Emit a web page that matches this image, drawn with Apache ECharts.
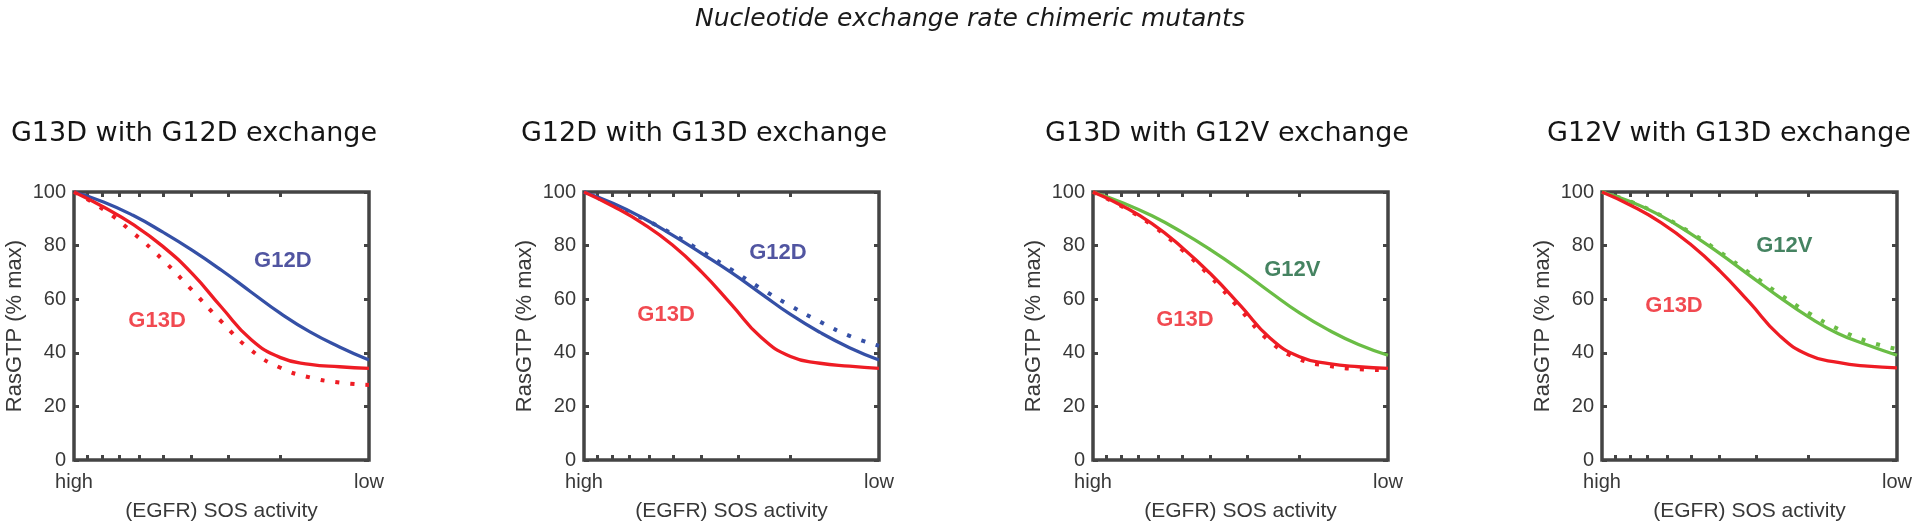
<!DOCTYPE html>
<html>
<head>
<meta charset="utf-8">
<script src="https://cdn.jsdelivr.net/npm/echarts@6/dist/echarts.min.js"></script>
<style>
  html, body { margin: 0; padding: 0; background: #fff; }
  #chart { width: 1920px; height: 527px; }
</style>
</head>
<body>
<div id="chart"></div>
<script>
// ---------- data ----------
const mainTitle = 'Nucleotide exchange rate chimeric mutants';
const panelTitles = ['G13D with G12D exchange', 'G12D with G13D exchange', 'G13D with G12V exchange', 'G12V with G13D exchange'];
const xAxisName = '(EGFR) SOS activity';
const yAxisName = 'RasGTP (% max)';

// SOS activity (log axis, high -> low)
const activity = [10, 7.943, 6.310, 5.012, 3.981, 3.162, 2.512, 1.995, 1.585, 1.259, 1];
const xMinorTicks = [2, 3, 4, 5, 6, 7, 8, 9];
const xLabelValues = [10, 1];
const xLabelNames = ['high', 'low'];

// Panel 1: G13D with G12D exchange
const p1_G12D = [100, 96.3, 91.3, 85.1, 78.3, 70.8, 62.7, 54.7, 47.8, 42.2, 37.3];
const p1_G13D = [100, 94.4, 87.9, 79.8, 69.6, 57.0, 45.0, 38.2, 35.7, 34.8, 34.2];
const p1_chimera = [100, 93.5, 84.8, 74.8, 63.4, 51.6, 41.0, 34.4, 30.8, 28.9, 28.0];
// Panel 2: G12D with G13D exchange
const p2_G12D = [100, 95.7, 90.3, 83.9, 77.0, 69.9, 62.1, 54.3, 47.6, 41.9, 37.3];
const p2_G13D = [100, 94.6, 88.2, 80.2, 70.0, 58.0, 45.8, 38.6, 36.1, 35.0, 34.2];
const p2_chimera = [100, 95.2, 90.1, 84.3, 77.8, 71.0, 64.0, 57.5, 51.6, 46.3, 42.6];
// Panel 3: G13D with G12V exchange
const p3_G12V = [100, 96.0, 91.1, 85.1, 78.3, 70.8, 62.7, 54.9, 48.4, 43.1, 39.1];
const p3_G13D = [100, 94.8, 88.2, 79.5, 69.3, 57.6, 45.5, 38.5, 36.0, 34.8, 34.2];
const p3_chimera = [100, 94.5, 87.6, 78.6, 68.2, 56.0, 44.2, 37.6, 35.1, 33.9, 33.5];
// Panel 4: G12V with G13D exchange
const p4_G12V = [100, 96.3, 91.1, 84.5, 77.0, 68.9, 60.9, 53.4, 47.2, 42.9, 39.1];
const p4_G13D = [100, 94.9, 88.6, 80.5, 70.5, 58.8, 46.6, 39.2, 36.4, 35.0, 34.4];
const p4_chimera = [100, 96.3, 91.2, 84.9, 77.6, 69.8, 62.0, 54.9, 48.9, 44.3, 41.4];

// in-plot labels: [text, activity, RasGTP, colour]
const p1_labels = [['G12D', 1.96, 74.3, 'navy'], ['G13D', 5.23, 51.9, 'red']];
const p2_labels = [['G12D', 2.20, 77.1, 'navy'], ['G13D', 5.27, 54.1, 'red']];
const p3_labels = [['G12V', 2.11, 70.9, 'dgreen'], ['G13D', 4.88, 52.1, 'red']];
const p4_labels = [['G12V', 2.41, 80.0, 'dgreen'], ['G13D', 5.70, 57.3, 'red']];

// ---------- styling ----------
const C = {
  blue: '#3550a6', navy: '#262a8a', red: '#ee1c24', green: '#6abd45', dgreen: '#17643a',
  axis: '#444444', text: '#383838'
};
const SANS = '"Liberation Sans", Arial, Helvetica, sans-serif';
const panelLefts = [74, 584, 1093, 1602];
const titleCenters = [194, 704, 1227, 1729];
const PW = 295, PTOP = 192, PH = 268;

const panels = [
  { solid: [[p1_G12D, 'blue'], [p1_G13D, 'red']], dotted: [p1_chimera, 'red'], labels: p1_labels },
  { solid: [[p2_G12D, 'blue'], [p2_G13D, 'red']], dotted: [p2_chimera, 'blue'], labels: p2_labels },
  { solid: [[p3_G12V, 'green'], [p3_G13D, 'red']], dotted: [p3_chimera, 'red'], labels: p3_labels },
  { solid: [[p4_G12V, 'green'], [p4_G13D, 'red']], dotted: [p4_chimera, 'green'], labels: p4_labels }
];

const toPts = arr => activity.map((x, k) => [x, arr[k]]);

const grid = [], xAxis = [], yAxis = [], series = [], graphic = [];

graphic.push({
  type: 'text', x: 970, y: 19,
  style: { text: mainTitle, font: 'italic 25px "DejaVu Sans", sans-serif', fill: '#1a1a1a',
           align: 'center', verticalAlign: 'middle', textAlign: 'center', textVerticalAlign: 'middle' }
});

const tickStyle = { show: true, inside: true, length: 5, lineStyle: { color: C.axis, width: 3 } };

panels.forEach((p, i) => {
  grid.push({ left: panelLefts[i], top: PTOP, width: PW, height: PH, show: true,
              borderColor: C.axis, borderWidth: 3.5, backgroundColor: 'transparent', containLabel: false });
  graphic.push({
    type: 'text', x: titleCenters[i], y: 134,
    style: { text: panelTitles[i], font: '27px "DejaVu Sans", sans-serif', fill: '#151515',
             align: 'center', verticalAlign: 'middle', textAlign: 'center', textVerticalAlign: 'middle' }
  });
  const xBase = {
    type: 'log', logBase: 10, gridIndex: i, min: 1, max: 10, inverse: true,
    axisLine: { show: false, onZero: false }, splitLine: { show: false }, minorTick: { show: false },
    axisTick: Object.assign({ customValues: xMinorTicks }, tickStyle)
  };
  xAxis.push(Object.assign({}, xBase, {
    position: 'bottom',
    axisLabel: { show: true, customValues: xLabelValues, margin: 12,
                 formatter: v => xLabelNames[xLabelValues.indexOf(Math.round(v))] || '',
                 fontSize: 20, color: C.text, fontFamily: SANS },
    name: xAxisName, nameLocation: 'middle', nameGap: 41,
    nameTextStyle: { fontSize: 21, color: C.text, fontFamily: SANS }
  }));
  xAxis.push(Object.assign({}, xBase, { position: 'top', axisLabel: { show: false } }));
  const yBase = {
    type: 'value', gridIndex: i, min: 0, max: 100, interval: 20,
    axisLine: { show: false, onZero: false }, splitLine: { show: false },
    axisTick: tickStyle
  };
  yAxis.push(Object.assign({}, yBase, {
    position: 'left',
    axisLabel: { show: true, margin: 8, fontSize: 20, color: C.text, fontFamily: SANS },
    name: yAxisName, nameLocation: 'middle', nameGap: 48, nameRotate: 90,
    nameTextStyle: { fontSize: 22, color: C.text, fontFamily: SANS }
  }));
  yAxis.push(Object.assign({}, yBase, { position: 'right', axisLabel: { show: false } }));

  const xi = 2 * i, yi = 2 * i;
  series.push({
    type: 'line', xAxisIndex: xi, yAxisIndex: yi, data: toPts(p.dotted[0]),
    showSymbol: false, smooth: 0.5, silent: true,
    lineStyle: { color: C[p.dotted[1]], width: 4, type: [4, 11], cap: 'butt' }, z: 3
  });
  p.solid.forEach(s => {
    series.push({
      type: 'line', xAxisIndex: xi, yAxisIndex: yi, data: toPts(s[0]),
      showSymbol: false, smooth: 0.5, silent: true,
      lineStyle: { color: C[s[1]], width: 3.3 }, z: 4
    });
  });
  series.push({
    type: 'scatter', xAxisIndex: xi, yAxisIndex: yi, symbolSize: 0, silent: true, z: 6,
    data: p.labels.map(l => ({
      value: [l[1], l[2]],
      label: { show: true, position: 'inside', formatter: l[0], color: C[l[3]],
               fontSize: 22, fontWeight: 'bold', fontFamily: SANS }
    }))
  });
});

const chart = echarts.init(document.getElementById('chart'), null, { renderer: 'canvas' });
chart.setOption({
  animation: false,
  backgroundColor: '#ffffff',
  grid, xAxis, yAxis, series, graphic
});
</script>
</body>
</html>
